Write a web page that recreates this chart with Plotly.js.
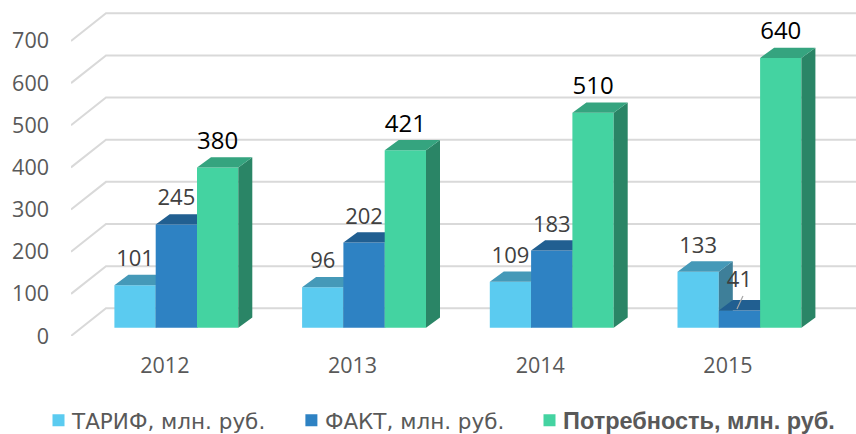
<!DOCTYPE html>
<html>
<head>
<meta charset="utf-8">
<script src="https://cdn.plot.ly/plotly-3.0.1.min.js"></script>
<style>html,body{margin:0;padding:0;background:#fff}#chart{width:856px;height:434px}</style>
</head>
<body>
<div id="chart"></div>
<script>
// ---- values
var years = ['2012', '2013', '2014', '2015'];
var wide = function (s) { return '<span style="font-family:\'DejaVu Sans\';font-size:21.5px">' + s + '\u00A0\u00A0</span>'; };
var seriesNames = [wide('ТАРИФ, млн. руб.'), wide('ФАКТ, млн. руб.'), '<b>Потребность, млн. руб.</b>'];
var tariff = [101, 96, 109, 133];
var fact = [245, 202, 183, 41];
var need = [380, 421, 510, 640];
var yTicks = [0, 100, 200, 300, 400, 500, 600, 700];

// ---- styles
var frontColors = ['#5BCBF0', '#2E82C3', '#44D3A1'];
var topColors = ['#4599B8', '#215F91', '#35A47F'];
var sideColors = ['#3E7F99', '#1F5A88', '#2A8566'];
var labelColors = ['#404040', '#404040', '#000000'];
var labelSizes = [22, 22, 24];
var gridColor = '#D9D9D9';
var textColor = '#595959';
var fontName = '"Open Sans", "Noto Sans", sans-serif';

// ---- oblique projection, in axis units
var pxX = 187.7, pxY = 0.4215;          // px per category, px per value unit
var W = 856, H = 434, ML = 71, MB = 98; // page and margins
var xRange = [-0.5, -0.5 + (W - ML) / pxX];
var yRange = [0, (H - MB) / pxY];
var wallDx = 35 / pxX, wallDv = 27.7 / pxY;     // back wall shift of the grid
var barDx = 11.5 / pxX, barBase = 8.3 / pxY;    // shift of the front of the bars
var depthDx = 14 / pxX, depthDv = 10.3 / pxY;   // depth of a bar
var barW = 41.3 / pxX;
var labelLift = 24.5 / pxY;
var smallLabelLift = 28.5 / pxY;

var series = [tariff, fact, need];
var traces = [];

// slanted grid lines, on the lowest layer
var gx = [], gy = [];
yTicks.forEach(function (v) {
  gx.push(xRange[0], xRange[0] + wallDx, xRange[1] + wallDx, null);
  gy.push(v, v + wallDv, v + wallDv, null);
});
traces.push({x: gx, y: gy, type: 'scatter', mode: 'lines', showlegend: false, hoverinfo: 'skip',
  line: {color: gridColor, width: 2}, xaxis: 'x', yaxis: 'y'});

// each series on its own overlay layer, so that the next one covers its side
series.forEach(function (vals, k) {
  var xa = 'x' + (k + 2), ya = 'y' + (k + 2);
  var off = barDx + (k - 1.5) * barW;
  traces.push({
    type: 'bar', name: seriesNames[k], x: [0, 1, 2, 3], y: vals,
    base: vals.map(function () { return barBase; }),
    width: barW, offset: off,
    marker: {color: frontColors[k], line: {width: 0}},
    xaxis: xa, yaxis: ya, hoverinfo: 'skip', textposition: 'none'
  });
  var sx = [], sy = [], tx = [], ty = [];
  vals.forEach(function (v, i) {
    var l = i + off, r = l + barW, b = barBase, t = barBase + v;
    sx.push(r, r + depthDx, r + depthDx, r, r, null);
    sy.push(b, b + depthDv, t + depthDv, t, b, null);
    tx.push(l, l + depthDx, r + depthDx, r, l, null);
    ty.push(t, t + depthDv, t + depthDv, t, t, null);
  });
  traces.push({x: sx, y: sy, type: 'scatter', mode: 'lines', fill: 'toself', fillcolor: sideColors[k],
    line: {width: 0, color: sideColors[k]}, showlegend: false, hoverinfo: 'skip', xaxis: xa, yaxis: ya});
  traces.push({x: tx, y: ty, type: 'scatter', mode: 'lines', fill: 'toself', fillcolor: topColors[k],
    line: {width: 0, color: topColors[k]}, showlegend: false, hoverinfo: 'skip', xaxis: xa, yaxis: ya});
});

// data labels and the leader line of the low bar
series.forEach(function (vals, k) {
  var off = barDx + (k - 1.5) * barW;
  traces.push({
    type: 'scatter', mode: 'text', showlegend: false, hoverinfo: 'skip',
    x: vals.map(function (v, i) { return i + off + barW / 2; }),
    y: vals.map(function (v) { return barBase + v + (v < 50 ? smallLabelLift : labelLift); }),
    text: vals.map(String), textposition: 'middle center',
    textfont: {family: fontName, size: labelSizes[k], color: labelColors[k]},
    xaxis: 'x4', yaxis: 'y4'
  });
});
var lowI = 3;
var lowCx = lowI + barDx + (1 - 1.5) * barW + barW / 2;
traces.push({
  type: 'scatter', mode: 'lines', showlegend: false, hoverinfo: 'skip',
  x: [lowCx - 2.5 / pxX, lowCx + 3.5 / pxX],
  y: [barBase + fact[lowI] + 1.5 / pxY, barBase + fact[lowI] + 14.5 / pxY],
  line: {color: '#A6A6A6', width: 1.2}, xaxis: 'x4', yaxis: 'y4'
});

var layout = {
  width: W, height: H,
  margin: {l: ML, r: 0, t: 0, b: MB, pad: 0, autoexpand: false},
  paper_bgcolor: '#fff', plot_bgcolor: 'rgba(0,0,0,0)',
  barmode: 'overlay',
  showlegend: true,
  font: {family: fontName, color: textColor},
  legend: {
    orientation: 'h', x: (32 - ML) / (W - ML), y: (H - MB - 420.5) / (H - MB),
    xanchor: 'left', yanchor: 'middle', bgcolor: 'rgba(0,0,0,0)',
    font: {family: '"Liberation Sans", sans-serif', size: 23.5, color: textColor}, traceorder: 'normal'
  },
  xaxis: {
    range: xRange, tickmode: 'array', tickvals: [0, 1, 2, 3], ticktext: years,
    showgrid: false, zeroline: false, showline: false, ticks: '', ticklabelstandoff: 14,
    tickfont: {family: fontName, size: 21.5, color: textColor}, fixedrange: true
  },
  yaxis: {
    range: yRange, tickmode: 'array', tickvals: yTicks, ticktext: yTicks.map(String),
    showgrid: false, zeroline: false, showline: false, ticks: '', ticklabelstandoff: 21,
    tickfont: {family: fontName, size: 21.5, color: textColor}, fixedrange: true
  }
};
[2, 3, 4].forEach(function (n) {
  layout['xaxis' + n] = {range: xRange, overlaying: 'x', visible: false, fixedrange: true};
  layout['yaxis' + n] = {range: yRange, overlaying: 'y', visible: false, fixedrange: true};
});

Plotly.newPlot('chart', traces, layout, {displayModeBar: false, staticPlot: true}).then(function (gd) {
  // the reference keeps its legend swatches closer to their texts
  gd.querySelectorAll('.legend .legendsymbols').forEach(function (g) {
    g.setAttribute('transform', 'translate(6.5,0)');
  });
});
</script>
</body>
</html>
